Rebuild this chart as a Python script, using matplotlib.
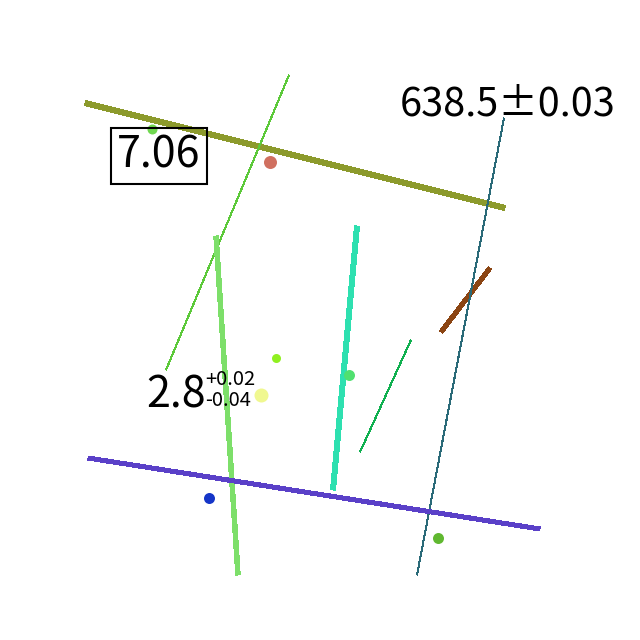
import matplotlib
matplotlib.use("Agg")
import matplotlib.pyplot as plt

# line segments (pixel coordinates of the reference canvas)
line_x0 = [85, 289, 216, 357, 490, 411, 504, 88]
line_y0 = [103, 75, 236, 226, 268, 340, 118, 458]
line_x1 = [505, 166, 238, 333, 441, 360, 417, 540]
line_y1 = [208, 370, 575, 490, 332, 452, 575, 529]
line_colors = ['#8c9a2c', '#5cc93a', '#7ddf6a', '#2ee0b0', '#8b4513', '#10b050', '#2a6a78', '#5a40c8']
line_widths = [5, 1, 4.5, 5, 4, 1, 1, 4]

# dots
dot_x = [152, 270, 276, 349, 261, 209, 438]
dot_y = [129, 162, 358, 375, 395, 498, 538]
dot_colors = ['#70d850', '#d07060', '#90f020', '#50e070', '#f0f890', '#1535c8', '#60b830']
dot_diam = [10, 13, 9, 11, 14, 11, 11]

PX = 72 / 100  # pixels -> points

fig = plt.figure(figsize=(6.4, 6.4), dpi=100)
ax = fig.add_axes([0, 0, 1, 1])
ax.set_xlim(0, 640)
ax.set_ylim(640, 0)
ax.axis('off')

for x0, y0, x1, y1, c, w in zip(line_x0, line_y0, line_x1, line_y1, line_colors, line_widths):
    ax.plot([x0, x1], [y0, y1], color=c, lw=w * PX, solid_capstyle='butt', antialiased=False)

for x, y, c, d in zip(dot_x, dot_y, dot_colors, dot_diam):
    ax.plot([x], [y], 'o', color=c, markersize=d * PX, markeredgewidth=0)

font = ['Noto Sans CJK SC', 'DejaVu Sans']
ax.text(117, 168, '7.06', fontsize=31, family=font, ha='left', va='baseline',
        bbox=dict(boxstyle='square,pad=0.15', facecolor='none', edgecolor='black', linewidth=1.5))
ax.text(400, 116, '638.5±0.03', fontsize=28.5, family=font, ha='left', va='baseline')
ax.text(146, 407, '2.8', fontsize=31, family=font, ha='left', va='baseline')
ax.text(205, 385, '+0.02', fontsize=14.5, family=font, ha='left', va='baseline')
ax.text(205, 406, '-0.04', fontsize=14.5, family=font, ha='left', va='baseline')

fig.savefig('out.png', dpi=100)
